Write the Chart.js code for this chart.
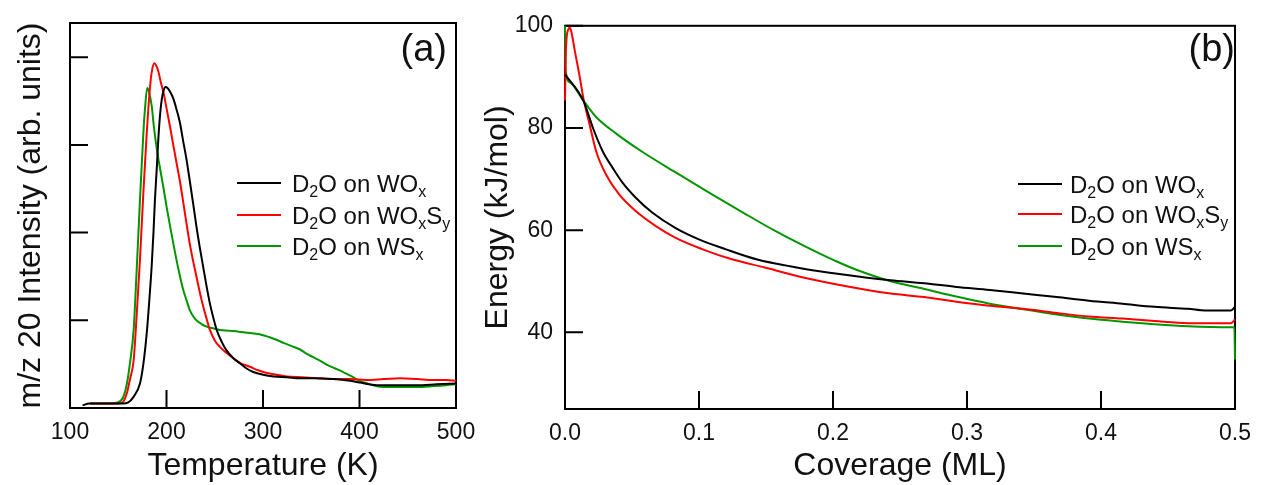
<!DOCTYPE html>
<html><head><meta charset="utf-8">
<script src="https://cdn.jsdelivr.net/npm/chart.js@4.4.1/dist/chart.umd.min.js"></script>
<style>
html,body{margin:0;padding:0;background:#fff;}
#wrap{position:relative;width:1262px;height:485px;overflow:hidden;background:#fff;}
canvas{position:absolute;top:0;}
#ca{left:0;} #cb{left:470px;}
</style></head><body>
<div id="wrap"><canvas id="ca" width="500" height="485"></canvas><canvas id="cb" width="792" height="485"></canvas></div>
<script>
// ---------- Panel (a): TPD spectra ----------
const tempTicks = [100, 200, 300, 400, 500];
const intensityTicks = [1, 2, 3, 4];

const tempWOx = [113,120,140,155,160,166,172.5,176,179.5,182,184.6,186.5,188,190,191.5,193,195,197,199,201,203.6,207,210.5,214,217,220.5,224,227.5,231,234.5,238,241.5,245,248.5,252,257,262,269,276,283,290,300,311,325,338,355,373,390,400.5,410,418,440,459,480,500];
const intWOx = [0.03,0.05,0.05,0.05,0.06,0.13,0.28,0.5,0.85,1.2,1.61,2.0,2.37,2.75,3.06,3.3,3.51,3.62,3.66,3.65,3.61,3.53,3.40,3.25,3.06,2.85,2.60,2.34,2.07,1.83,1.61,1.39,1.19,1.03,0.89,0.76,0.66,0.57,0.51,0.45,0.41,0.38,0.36,0.35,0.34,0.34,0.33,0.31,0.29,0.27,0.26,0.26,0.26,0.27,0.28];

const tempWOxSy = [121,140,150,155,159,162,166,169,172.5,176,179.5,183,185,187.4,189.5,191.5,194,197,200,203.6,207,210.5,214,217,220.5,224,227.5,231,234.5,238,241.5,245,250,255,262,269,277,286.5,295,304,314,324.5,340,355.6,372,390,407,425,442,460,476.5,490,500];
const intWOxSy = [0.05,0.05,0.05,0.07,0.17,0.32,0.55,1.04,1.69,2.45,3.13,3.67,3.85,3.93,3.9,3.84,3.72,3.59,3.42,3.21,3.0,2.79,2.58,2.37,2.12,1.88,1.68,1.50,1.32,1.16,1.02,0.89,0.77,0.70,0.63,0.57,0.51,0.47,0.43,0.40,0.38,0.36,0.35,0.34,0.33,0.33,0.32,0.33,0.34,0.33,0.32,0.32,0.31];

const tempWSx = [121,140,148,155,159,162,166,169,172.5,176,178,180,182,184.6,187,190,193.5,197,200,203.6,207,210.5,214,217,221,224,228,231,236,241,248,255,265,275,290,300,311,322,331,338,345,352,359,367,375,383,392,400,408,417,425,442,460,477,490,500];
const intWSx = [0.05,0.05,0.06,0.12,0.28,0.5,0.9,1.55,2.37,3.13,3.45,3.65,3.6,3.45,3.2,2.95,2.72,2.5,2.3,2.08,1.88,1.68,1.5,1.36,1.22,1.12,1.04,1.0,0.96,0.93,0.91,0.89,0.88,0.87,0.85,0.83,0.79,0.74,0.70,0.67,0.62,0.58,0.54,0.49,0.45,0.41,0.36,0.31,0.28,0.25,0.24,0.24,0.24,0.25,0.26,0.27];

// ---------- Panel (b): desorption energy vs coverage ----------
const coverageTicks = [0, 0.1, 0.2, 0.3, 0.4, 0.5];
const energyTicks = [40, 60, 80, 100];

const covWOx = [0,0.0136,0.021,0.0284,0.0358,0.0432,0.053,0.0653,0.0826,0.0999,0.1196,0.1442,0.169,0.1886,0.2256,0.243,0.268,0.292,0.317,0.342,0.367,0.391,0.416,0.44,0.465,0.478,0.497,0.5];
const eWOx = [90.5,85.4,79.9,75.3,72.1,69.2,66.3,63.4,60.4,58.2,56.3,54.2,52.9,52.0,50.7,50.2,49.6,48.9,48.3,47.6,46.9,46.2,45.6,45.0,44.6,44.3,44.3,45.0];

const covWOxSy = [0,0.0008,0.0025,0.0037,0.005,0.0074,0.011,0.0136,0.0185,0.0234,0.0308,0.0407,0.053,0.0678,0.0826,0.1023,0.1245,0.1491,0.1787,0.2256,0.243,0.268,0.292,0.317,0.342,0.367,0.391,0.416,0.44,0.465,0.478,0.497,0.5];
const eWOxSy = [85.4,96,99.3,99.6,98.5,95.0,90.0,86.0,80.5,75.3,70.8,66.9,63.7,60.8,58.5,56.3,54.3,52.7,50.7,48.3,47.6,46.9,46.0,45.2,44.6,43.8,43.1,42.7,42.2,41.8,41.8,41.8,42.5];

const covWSx = [0,0.0004,0.0037,0.0136,0.0234,0.0382,0.0579,0.0826,0.1072,0.1319,0.1565,0.1886,0.2009,0.218,0.243,0.268,0.292,0.317,0.342,0.367,0.391,0.416,0.44,0.465,0.497,0.4995,0.5];
const eWSx = [100,91.5,88.9,85.4,82.1,78.9,75.3,71.3,67.4,63.6,59.9,55.6,54.1,52.2,50.0,48.5,47.0,45.6,44.5,43.5,42.7,42.1,41.6,41.2,41.0,41.0,34.7];

// legend names: [text, isSubscript]
const seriesNames = [
  [['D',0],['2',1],['O on WO',0],['x',1]],
  [['D',0],['2',1],['O on WO',0],['x',1],['S',0],['y',1]],
  [['D',0],['2',1],['O on WS',0],['x',1]]
];
const seriesLabels = ['D2O on WOx', 'D2O on WOxSy', 'D2O on WSx'];
const seriesColors = ['#000000', '#ff0000', '#009600'];

const FAMILY = "'Liberation Sans', Arial, sans-serif";
const TXT = '#111111';

function zip(xs, ys) { return xs.map((x, i) => ({x: x, y: ys[i]})); }

const deco = {
  id: 'deco',
  beforeDatasetsDraw(chart, args, o) {
    const {ctx, chartArea: a, scales: {x, y}} = chart;
    ctx.save();
    ctx.strokeStyle = '#000';
    ctx.lineWidth = 2;
    ctx.strokeRect(a.left, a.top, a.right - a.left, a.bottom - a.top);
    ctx.beginPath();
    for (const v of o.xTicks) {
      const px = x.getPixelForValue(v);
      ctx.moveTo(px, a.bottom); ctx.lineTo(px, a.bottom - o.len);
    }
    for (const v of o.yTicks) {
      const py = y.getPixelForValue(v);
      ctx.moveTo(a.left, py); ctx.lineTo(a.left + o.len, py);
    }
    ctx.stroke();
    ctx.restore();
  },
  afterDraw(chart, args, o) {
    const ctx = chart.ctx;
    ctx.save();
    ctx.fillStyle = TXT;
    ctx.textAlign = 'right';
    ctx.textBaseline = 'alphabetic';
    ctx.font = "38px " + FAMILY;
    ctx.fillText(o.label, o.labelX, o.labelY);
    // legend
    ctx.textAlign = 'left';
    chart.data.datasets.forEach((ds, i) => {
      const ly = o.legendY[i];
      ctx.strokeStyle = ds.borderColor;
      ctx.lineWidth = 2;
      ctx.beginPath();
      ctx.moveTo(o.lineX0, ly); ctx.lineTo(o.lineX1, ly);
      ctx.stroke();
      let tx = o.textX;
      const base = ly + 8.5;
      for (const [t, sub] of seriesNames[i]) {
        ctx.font = (sub ? '16px ' : '24px ') + FAMILY;
        ctx.fillText(t, tx, sub ? base + 5 : base);
        tx += ctx.measureText(t).width;
      }
    });
    ctx.restore();
  }
};

function datasets(xsList, ysList) {
  return xsList.map((xs, i) => ({
    label: seriesLabels[i],
    data: zip(xs, ysList[i]),
    borderColor: seriesColors[i],
    backgroundColor: seriesColors[i],
    borderWidth: 2,
    pointRadius: 0,
    fill: false,
    clip: false,
    cubicInterpolationMode: 'monotone'
  }));
}

const commonAxis = {
  grid: {display: false, drawTicks: false},
  border: {display: false}
};

new Chart(document.getElementById('ca'), {
  type: 'line',
  data: {datasets: datasets([tempWOx, tempWOxSy, tempWSx], [intWOx, intWOxSy, intWSx])},
  options: {
    responsive: false, animation: false,
    layout: {padding: {top: 23, right: 44, bottom: 0, left: 0}},
    plugins: {
      legend: {display: false}, tooltip: {enabled: false},
      deco: {xTicks: tempTicks, yTicks: intensityTicks, len: 18, label: '(a)', labelX: 447, labelY: 61,
             lineX0: 237, lineX1: 281, textX: 292, legendY: [183, 215, 246]}
    },
    scales: {
      x: Object.assign({}, commonAxis, {
        type: 'linear', min: 100, max: 500,
        afterBuildTicks(s) { s.ticks = tempTicks.map(v => ({value: v})); },
        afterFit(s) { s.height = 77; },
        ticks: {padding: 11, color: TXT, font: {size: 23, family: FAMILY}},
        title: {display: true, text: 'Temperature (K)', color: TXT, font: {size: 32, family: FAMILY}, padding: {top: 0, bottom: 0}}
      }),
      y: Object.assign({}, commonAxis, {
        type: 'linear', min: 0, max: 4.39,
        afterBuildTicks(s) { s.ticks = intensityTicks.map(v => ({value: v})); },
        afterFit(s) { s.width = 70; },
        ticks: {display: false},
        title: {display: true, text: 'm/z 20 Intensity (arb. units)', color: TXT, font: {size: 32, family: FAMILY}, padding: {top: 12, bottom: 0}}
      })
    }
  },
  plugins: [deco]
});

new Chart(document.getElementById('cb'), {
  type: 'line',
  data: {datasets: datasets([covWOx, covWOxSy, covWSx], [eWOx, eWOxSy, eWSx])},
  options: {
    responsive: false, animation: false,
    layout: {padding: {top: 23, right: 21, bottom: 0, left: 0}},
    plugins: {
      legend: {display: false}, tooltip: {enabled: false},
      deco: {xTicks: coverageTicks, yTicks: energyTicks, len: 18, label: '(b)', labelX: 765, labelY: 61,
             lineX0: 548, lineX1: 592, textX: 600, legendY: [184, 214, 246]}
    },
    scales: {
      x: Object.assign({}, commonAxis, {
        type: 'linear', min: 0, max: 0.5,
        afterBuildTicks(s) { s.ticks = coverageTicks.map(v => ({value: v})); },
        afterFit(s) { s.height = 76; },
        ticks: {padding: 11, color: TXT, font: {size: 23, family: FAMILY}, callback: v => Number(v).toFixed(1)},
        title: {display: true, text: 'Coverage (ML)', color: TXT, font: {size: 32, family: FAMILY}, padding: {top: 0, bottom: 0}}
      }),
      y: Object.assign({}, commonAxis, {
        type: 'linear', min: 25, max: 100,
        afterBuildTicks(s) { s.ticks = energyTicks.map(v => ({value: v})); },
        afterFit(s) { s.width = 95; },
        ticks: {padding: 12, color: TXT, font: {size: 23, family: FAMILY}},
        title: {display: true, text: 'Energy (kJ/mol)', color: TXT, font: {size: 32, family: FAMILY}, padding: {top: 9, bottom: 0}}
      })
    }
  },
  plugins: [deco]
});
</script>
</body></html>
